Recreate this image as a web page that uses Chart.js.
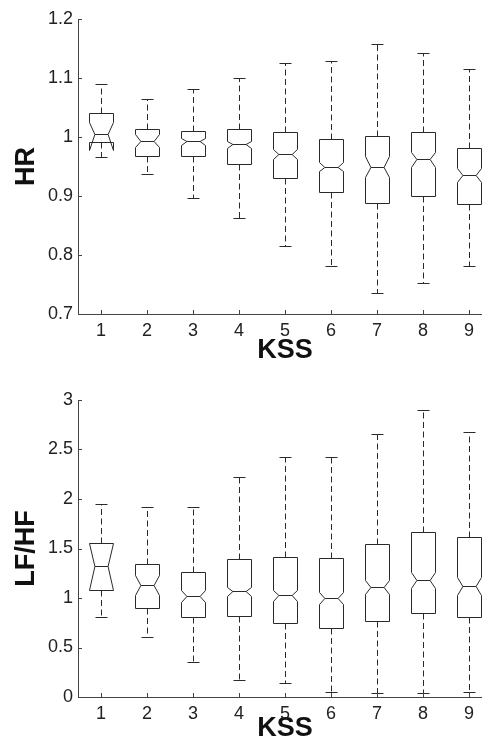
<!DOCTYPE html>
<html>
<head>
<meta charset="utf-8">
<script src="https://cdn.jsdelivr.net/npm/chart.js@4.4.1/dist/chart.umd.min.js"></script>
<style>
  html, body { margin: 0; padding: 0; background: #fff; overflow: hidden; }
  .panel { position: absolute; left: 0; }
</style>
</head>
<body>
<div class="panel" style="top:0"><canvas id="hrChart" width="500" height="370"></canvas></div>
<div class="panel" style="top:370px"><canvas id="lfhfChart" width="500" height="372"></canvas></div>
<script>
/* KSS categories */
const kss = [1, 2, 3, 4, 5, 6, 7, 8, 9];

// HR box stats
const hrLower   = [0.966, 0.938, 0.896, 0.863, 0.815, 0.782, 0.736, 0.752, 0.781];
const hrQ1      = [0.991, 0.967, 0.967, 0.955, 0.930, 0.906, 0.888, 0.900, 0.886];
const hrNotchLo = [0.978, 0.983, 0.987, 0.982, 0.963, 0.942, 0.933, 0.950, 0.923];
const hrMedian  = [1.005, 0.993, 0.993, 0.988, 0.971, 0.950, 0.950, 0.962, 0.935];
const hrNotchHi = [1.026, 1.005, 0.998, 0.994, 0.979, 0.958, 0.967, 0.975, 0.947];
const hrQ3      = [1.040, 1.014, 1.011, 1.014, 1.008, 0.997, 1.001, 1.008, 0.981];
const hrUpper   = [1.089, 1.065, 1.081, 1.100, 1.125, 1.128, 1.158, 1.142, 1.115];
const hrTicks = [0.7, 0.8, 0.9, 1, 1.1, 1.2];

// LF/HF box stats
const lfLower   = [0.809, 0.607, 0.354, 0.176, 0.142, 0.051, 0.041, 0.041, 0.048];
const lfQ1      = [1.083, 0.897, 0.812, 0.822, 0.752, 0.698, 0.767, 0.845, 0.808];
const lfNotchLo = [1.083, 1.028, 0.961, 1.018, 0.968, 0.944, 1.045, 1.096, 1.028];
const lfMedian  = [1.324, 1.130, 1.020, 1.067, 1.030, 1.000, 1.109, 1.180, 1.122];
const lfNotchHi = [1.557, 1.231, 1.079, 1.112, 1.079, 1.062, 1.180, 1.264, 1.213];
const lfQ3      = [1.557, 1.342, 1.264, 1.390, 1.416, 1.409, 1.544, 1.667, 1.612];
const lfUpper   = [1.952, 1.918, 1.918, 2.218, 2.420, 2.427, 2.656, 2.899, 2.676];
const lfTicks = [0, 0.5, 1, 1.5, 2, 2.5, 3];

const BOX_HALF = 0.26;    // in x units
const CAP_HALF = 0.135;
const NOTCH_WAIST = 0.55; // median width relative to box width
const lineColor = "#2a2a2a";
const axisColor = "#444";
const textColor = "#222";
const fontFamily = "'Liberation Sans', Arial, Helvetica, sans-serif";

function toBoxes(lower, q1, notchLo, median, notchHi, q3, upper) {
  return kss.map((k, i) => ({
    x: k, y: median[i],
    lower: lower[i], q1: q1[i], notchLo: notchLo[i],
    notchHi: notchHi[i], q3: q3[i], upper: upper[i],
  }));
}

// draws notched boxes (matlab style) from the dataset through the scales
const notchedBoxes = {
  id: "notchedBoxes",
  afterDatasetsDraw(chart) {
    const { ctx, scales: { x, y } } = chart;
    const py = (v) => Math.round(y.getPixelForValue(v)) + 0.5;
    const px = (v) => Math.round(x.getPixelForValue(v)) + 0.5;
    ctx.save();
    ctx.strokeStyle = lineColor;
    ctx.lineWidth = 1;
    chart.data.datasets[0].data.forEach((b) => {
      const cx = px(b.x);
      const l = px(b.x - BOX_HALF), r = px(b.x + BOX_HALF);
      const ind = ((r - l) / 2) * (1 - NOTCH_WAIST);

      // whiskers
      ctx.setLineDash([6, 3.5]);
      ctx.beginPath();
      ctx.moveTo(cx, py(b.q3));
      ctx.lineTo(cx, py(b.upper));
      ctx.moveTo(cx, py(b.q1));
      ctx.lineTo(cx, py(b.lower));
      ctx.stroke();
      ctx.setLineDash([]);

      // caps
      ctx.beginPath();
      ctx.moveTo(px(b.x - CAP_HALF), py(b.upper));
      ctx.lineTo(px(b.x + CAP_HALF), py(b.upper));
      ctx.moveTo(px(b.x - CAP_HALF), py(b.lower));
      ctx.lineTo(px(b.x + CAP_HALF), py(b.lower));
      ctx.stroke();

      // notched box
      ctx.beginPath();
      ctx.moveTo(l, py(b.q3));
      ctx.lineTo(l, py(b.notchHi));
      ctx.lineTo(l + ind, py(b.y));
      ctx.lineTo(l, py(b.notchLo));
      ctx.lineTo(l, py(b.q1));
      ctx.lineTo(r, py(b.q1));
      ctx.lineTo(r, py(b.notchLo));
      ctx.lineTo(r - ind, py(b.y));
      ctx.lineTo(r, py(b.notchHi));
      ctx.lineTo(r, py(b.q3));
      ctx.closePath();
      ctx.stroke();

      // median
      ctx.beginPath();
      ctx.moveTo(l + ind, py(b.y));
      ctx.lineTo(r - ind, py(b.y));
      ctx.stroke();
    });

    // inward tick marks
    ctx.strokeStyle = axisColor;
    ctx.beginPath();
    x.ticks.forEach((t) => {
      const p = px(t.value);
      ctx.moveTo(p, y.bottom);
      ctx.lineTo(p, y.bottom - 4);
    });
    y.ticks.forEach((t) => {
      const p = py(t.value);
      ctx.moveTo(x.left, p);
      ctx.lineTo(x.left + 4, p);
    });
    ctx.stroke();
    ctx.restore();
  },
};

function makeChart(id, boxes, yTicks, yTitle, padTop, xHeight, titlePadBottom) {
  return new Chart(document.getElementById(id), {
    type: "scatter",
    data: { datasets: [{ data: boxes, pointRadius: 0, showLine: false }] },
    options: {
      responsive: false,
      animation: false,
      layout: { padding: { top: padTop, right: 8, left: 0, bottom: 0 } },
      plugins: { legend: { display: false }, tooltip: { enabled: false } },
      scales: {
        x: {
          type: "linear",
          min: 0.5,
          max: 9.5,
          afterBuildTicks: (s) => { s.ticks = kss.map((v) => ({ value: v })); },
          afterFit: (s) => { s.height = xHeight; },
          grid: { display: false, drawTicks: false },
          border: { display: true, color: axisColor, width: 1 },
          ticks: {
            padding: 6, color: textColor, autoSkip: false, maxRotation: 0,
            font: { family: fontFamily, size: 18 },
            callback: (v) => String(v),
          },
          title: {
            display: true, text: "KSS", color: "#111",
            font: { family: fontFamily, size: 27, weight: "bold", lineHeight: 1 },
            padding: { top: 0, bottom: titlePadBottom },
          },
        },
        y: {
          min: yTicks[0],
          max: yTicks[yTicks.length - 1],
          afterBuildTicks: (s) => { s.ticks = yTicks.map((v) => ({ value: v })); },
          afterFit: (s) => { s.width = 78; },
          grid: { display: false, drawTicks: false },
          border: { display: true, color: axisColor, width: 1 },
          ticks: {
            padding: 5, color: textColor,
            font: { family: fontFamily, size: 18 },
            callback: (v) => String(v),
          },
          title: {
            display: true, text: yTitle, color: "#111",
            font: { family: fontFamily, size: 27, weight: "bold", lineHeight: 1 },
            padding: { top: 13, bottom: 0 },
          },
        },
      },
    },
    plugins: [notchedBoxes],
  });
}

makeChart("hrChart",
  toBoxes(hrLower, hrQ1, hrNotchLo, hrMedian, hrNotchHi, hrQ3, hrUpper),
  hrTicks, "HR", 19, 56, 6);

makeChart("lfhfChart",
  toBoxes(lfLower, lfQ1, lfNotchLo, lfMedian, lfNotchHi, lfQ3, lfUpper),
  lfTicks, "LF/HF", 30, 45, 0);
</script>
</body>
</html>
